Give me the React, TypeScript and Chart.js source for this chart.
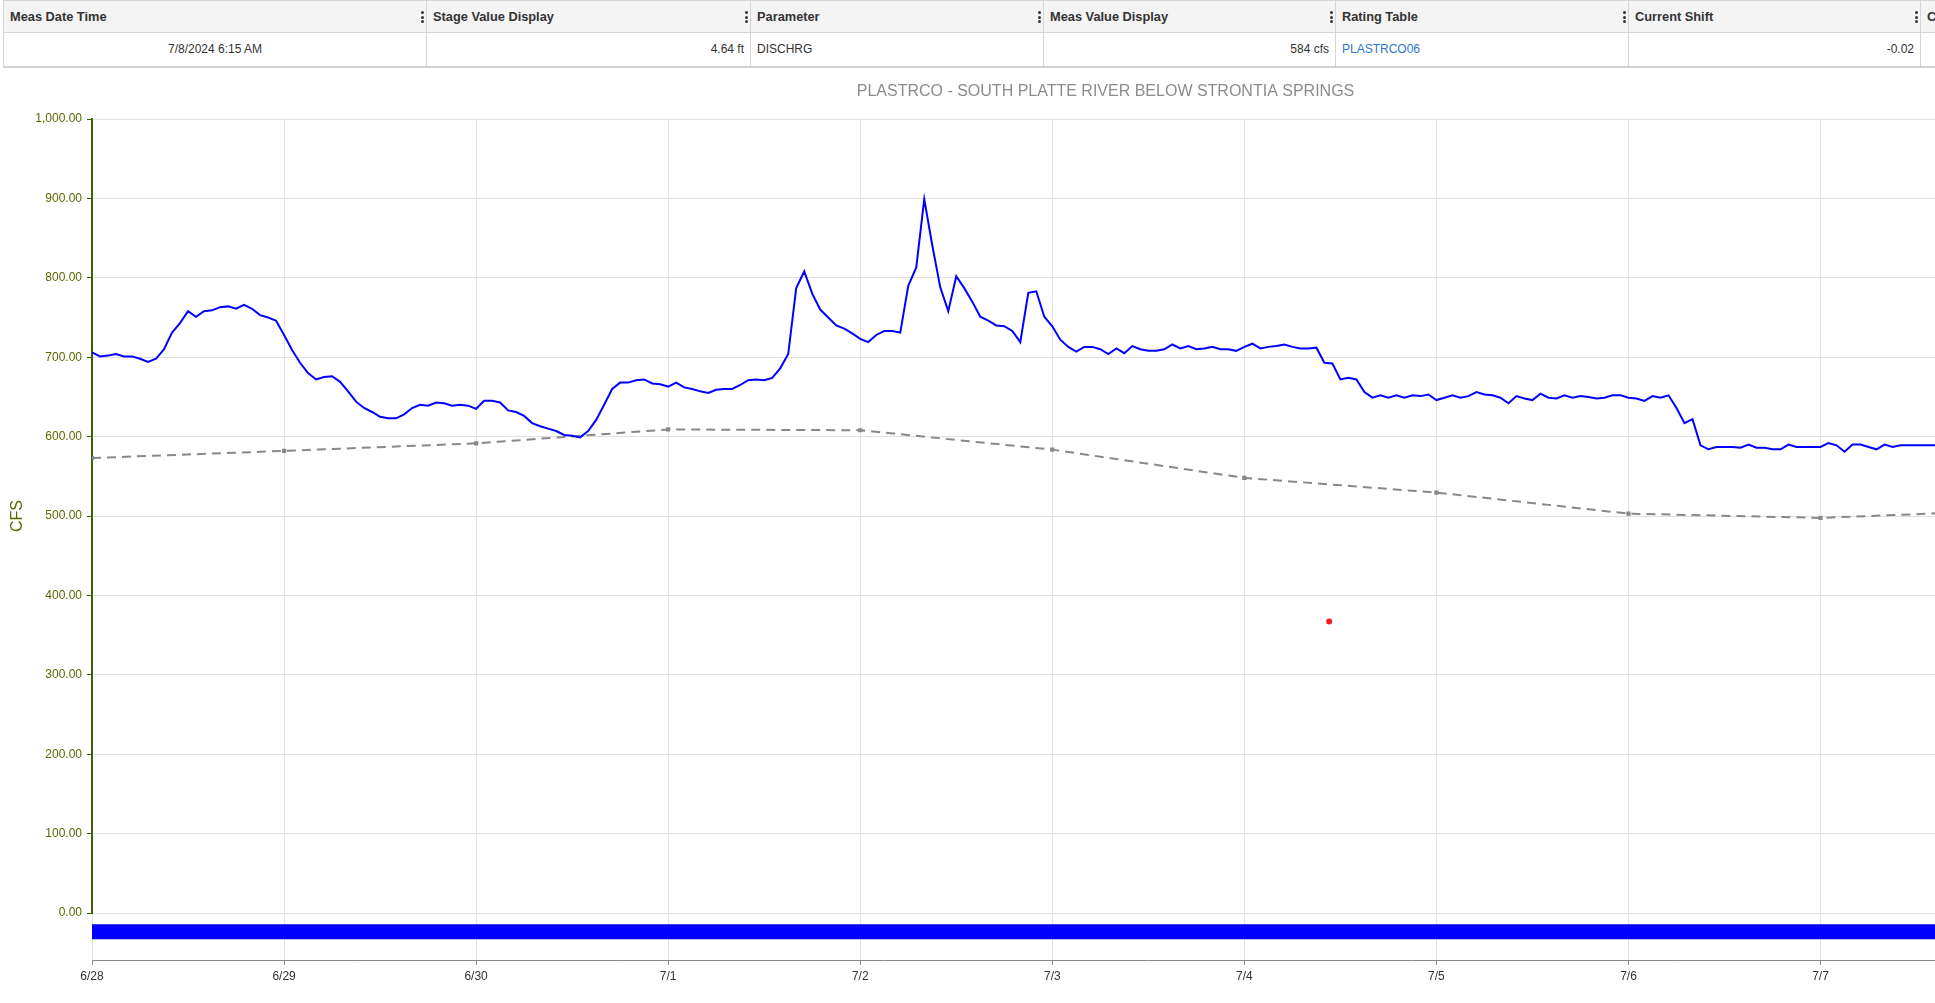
import React, { useEffect, useRef } from 'react';
import { Chart, registerables } from 'chart.js';

Chart.register(...registerables);

// ---------- data ----------
const CHART_TITLE = 'PLASTRCO - SOUTH PLATTE RIVER BELOW STRONTIA SPRINGS';
const Y_TITLE = 'CFS';

// x tick labels, one per day starting 6/28 00:00
const DATE_LABELS = ['6/28', '6/29', '6/30', '7/1', '7/2', '7/3', '7/4', '7/5', '7/6', '7/7', '7/8', '7/9'];

// hourly discharge (cfs), starting 6/28 00:00
const FLOW_CFS = [
  706, 701, 702, 704, 701, 701, 698, 694, 698, 710, 731, 743, 758, 751, 758, 759, 763, 764, 761, 766, 761, 753, 750, 746,
  728, 709, 693, 680, 672, 675, 676, 669, 657, 644, 636, 631, 625, 623, 623, 628, 636, 640, 639, 643, 642, 639, 640, 639,
  635, 645, 645, 643, 633, 631, 626, 617, 613, 610, 607, 602, 601, 599, 607, 621, 640, 660, 668, 668, 671, 672, 667, 666,
  663, 668, 662, 660, 657, 655, 659, 660, 660, 665, 671, 672, 671, 674, 686, 704, 787, 808, 780, 760, 750, 740, 736, 730,
  723, 719, 728, 733, 733, 731, 790, 813, 899, 841, 788, 758, 802, 787, 770, 751, 746, 740, 739, 733, 719, 781, 783, 751,
  739, 722, 713, 707, 713, 713, 710, 704, 711, 705, 714, 710, 708, 708, 710, 716, 711, 714, 710, 711, 713, 710, 710, 708,
  713, 717, 711, 713, 714, 716, 713, 711, 711, 712, 693, 692, 672, 674, 672, 656, 649, 652, 649, 652, 649, 652, 651, 653,
  646, 649, 652, 649, 651, 656, 653, 652, 649, 642, 651, 648, 646, 654, 649, 648, 652, 649, 651, 650, 648, 649, 652, 652,
  649, 648, 645, 651, 649, 652, 636, 617, 622, 589, 584, 587, 587, 587, 586, 590, 586, 586, 584, 584, 590, 587, 587, 587,
  587, 592, 589, 581, 590, 590, 587, 584, 590, 587, 589, 589, 589, 589, 589, 589, 589,
];

// shift-adjusted rating curve (dashed), daily points
const SHIFT_DAY = [0, 1, 2, 3, 4, 5, 6, 7, 8, 9, 10];
const SHIFT_CFS = [573, 582, 591.5, 609, 608, 583.6, 548, 529.5, 503, 497.6, 507];

// field measurement (red dot)
const MEAS_HOUR = [154.6];
const MEAS_CFS = [367];

// data-availability bar below the axis
const TIMELINE_HOURS = [0, 264];
const TIMELINE_LEVEL = 0.6;

// table
const HEADERS = ['Meas Date Time', 'Stage Value Display', 'Parameter', 'Meas Value Display', 'Rating Table', 'Current Shift', 'Comments'];
const ROW = ['7/8/2024 6:15 AM', '4.64 ft', 'DISCHRG', '584 cfs', 'PLASTRCO06', '-0.02', ''];
const COL_WIDTHS = [423, 324, 293, 292, 293, 292, 300];
const COL_ALIGN: ('left' | 'right' | 'center')[] = ['center', 'right', 'left', 'right', 'left', 'right', 'left'];

const FONT = '"Liberation Sans", Arial, Helvetica, sans-serif';
const AXIS_TEXT = '#5c6600';

function fmt(v: number) {
  return Number(v).toLocaleString('en-US', { minimumFractionDigits: 2, maximumFractionDigits: 2 });
}

function Kebab() {
  const dot = { width: 3, height: 3, borderRadius: 2, background: '#333' } as React.CSSProperties;
  return (
    <span style={{ position: 'absolute', right: 2, top: 10, display: 'flex', flexDirection: 'column', gap: 1.5 }}>
      <span style={dot} />
      <span style={dot} />
      <span style={dot} />
    </span>
  );
}

export default function App() {
  const ref = useRef<HTMLCanvasElement>(null);

  useEffect(() => {
    document.body.style.margin = '0';
    document.body.style.overflow = 'hidden';
    Chart.defaults.font.family = FONT;
    const chart = new Chart(ref.current as HTMLCanvasElement, {
      type: 'line',
      data: {
        datasets: [
          {
            label: 'Discharge',
            data: FLOW_CFS.map((v, i) => ({ x: i, y: v })),
            borderColor: '#0000ff',
            backgroundColor: '#0000ff',
            borderWidth: 2,
            pointRadius: 0,
            tension: 0,
            yAxisID: 'y',
          },
          {
            label: 'Shift',
            data: SHIFT_DAY.map((d, i) => ({ x: d * 24, y: SHIFT_CFS[i] })),
            borderColor: '#888888',
            backgroundColor: '#888888',
            borderWidth: 2,
            borderDash: [9, 6],
            pointStyle: 'rect',
            pointRadius: 3,
            pointBorderWidth: 0,
            pointBackgroundColor: '#888888',
            tension: 0,
            yAxisID: 'y',
          },
          {
            label: 'Measurement',
            data: MEAS_HOUR.map((h, i) => ({ x: h, y: MEAS_CFS[i] })),
            showLine: false,
            pointRadius: 3,
            pointBorderWidth: 0,
            pointBackgroundColor: '#ee1c1c',
            borderColor: '#ee1c1c',
            yAxisID: 'y',
          },
          {
            label: 'Timeline',
            data: TIMELINE_HOURS.map((h) => ({ x: h, y: TIMELINE_LEVEL })),
            borderColor: '#0000ff',
            borderWidth: 15,
            borderCapStyle: 'butt',
            pointRadius: 0,
            yAxisID: 'y2',
          },
        ],
      },
      options: {
        animation: false,
        responsive: false,
        devicePixelRatio: 1,
        layout: { padding: { left: 4, right: 10, top: 5, bottom: 13.6 } },
        plugins: {
          legend: { display: false },
          tooltip: { enabled: false },
          title: {
            display: true,
            text: CHART_TITLE,
            color: '#8c8c8c',
            font: { size: 16, weight: 'normal', family: FONT },
            padding: { top: 11.4, bottom: 17.4 },
          },
        },
        scales: {
          x: {
            type: 'linear',
            min: 0,
            max: 264,
            grid: { color: '#e0e0e0', tickColor: '#888888', tickLength: 5 },
            border: { color: '#888888', width: 1 },
            ticks: {
              stepSize: 24,
              autoSkip: false,
              maxRotation: 0,
              padding: 4,
              color: '#333333',
              font: { size: 12 },
              callback: (v: any) => DATE_LABELS[Math.round(Number(v) / 24)] ?? '',
            },
          },
          y: {
            type: 'linear',
            position: 'left',
            stack: 'v',
            stackWeight: 794,
            weight: 1,
            min: 0,
            max: 1000,
            grid: { color: '#e0e0e0', tickColor: '#336600', tickLength: 5 },
            border: { color: '#336600', width: 2 },
            ticks: {
              stepSize: 100,
              padding: 5,
              color: AXIS_TEXT,
              font: { size: 12 },
              callback: (v: any) => fmt(v),
            },
            title: {
              display: true,
              text: Y_TITLE,
              color: AXIS_TEXT,
              font: { size: 16 },
              padding: { top: 4, bottom: 4 },
            },
            afterFit: (s: any) => {
              s.width = 88;
            },
          },
          y2: {
            type: 'linear',
            position: 'left',
            stack: 'v',
            stackWeight: 47,
            weight: 0,
            min: 0,
            max: 1,
            display: true,
            grid: { display: false },
            ticks: { display: false },
            border: { display: false },
          },
        },
      } as any,
    });
    return () => chart.destroy();
  }, []);

  return (
    <div style={{ position: 'relative', width: 1935, height: 1003, overflow: 'hidden', background: '#fff', fontFamily: FONT }}>
      <div
        style={{
          position: 'absolute',
          left: 3,
          top: 0,
          display: 'flex',
          flexDirection: 'column',
          borderTop: '1px solid #d6d6d6',
          borderLeft: '1px solid #d6d6d6',
        }}
      >
        <div style={{ display: 'flex', height: 31, background: '#f4f4f4', borderBottom: '1px solid #d6d6d6' }}>
          {HEADERS.map((h, i) => (
            <div
              key={i}
              style={{
                position: 'relative',
                width: COL_WIDTHS[i],
                flex: 'none',
                boxSizing: 'border-box',
                borderRight: '1px solid #d6d6d6',
                padding: '0 6px',
                lineHeight: '31px',
                fontSize: 12.8,
                fontWeight: 'bold',
                color: '#333',
                whiteSpace: 'nowrap',
                overflow: 'hidden',
              }}
            >
              {h}
              <Kebab />
            </div>
          ))}
        </div>
        <div style={{ display: 'flex', height: 33, background: '#fff', borderBottom: '2px solid #d0d0d0' }}>
          {ROW.map((c, i) => (
            <div
              key={i}
              style={{
                width: COL_WIDTHS[i],
                flex: 'none',
                boxSizing: 'border-box',
                borderRight: '1px solid #d6d6d6',
                padding: '0 6px',
                lineHeight: '33px',
                fontSize: 12,
                textAlign: COL_ALIGN[i],
                color: i === 4 ? '#2a78d0' : '#333',
                whiteSpace: 'nowrap',
                overflow: 'hidden',
              }}
            >
              {c}
            </div>
          ))}
        </div>
      </div>
      <canvas
        ref={ref}
        width={2217}
        height={935}
        style={{ position: 'absolute', left: 0, top: 66, width: 2217, height: 935 }}
      />
    </div>
  );
}
